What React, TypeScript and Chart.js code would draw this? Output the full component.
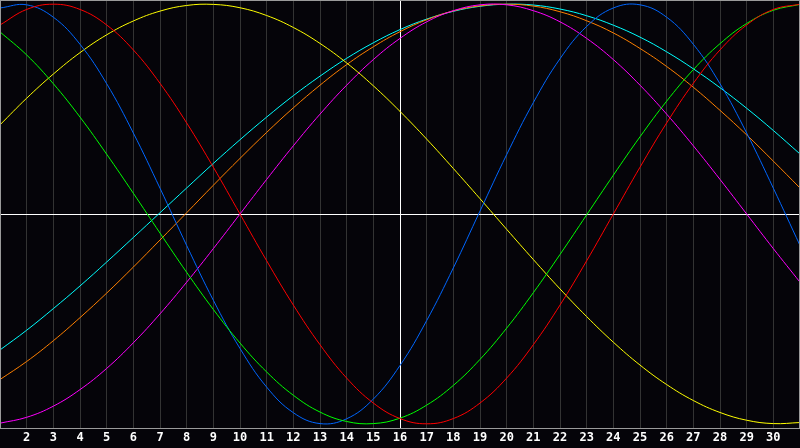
import React, { useEffect, useRef } from "react"
import Chart from "chart.js/auto"

// days 1..31, day 16 is the marked day
const days = [
  1, 2, 3, 4, 5, 6, 7, 8, 9, 10, 11, 12, 13, 14, 15, 16,
  17, 18, 19, 20, 21, 22, 23, 24, 25, 26, 27, 28, 29, 30, 31,
]
const markedDay = 16

const blueValues = [
  0.982, 0.997, 0.938, 0.809, 0.621, 0.386, 0.123, -0.15, -0.411, -0.641, -0.825,
  -0.947, -0.999, -0.976, -0.882, -0.722, -0.508, -0.257, 0.014, 0.283, 0.531,
  0.74, 0.894, 0.982, 0.997, 0.938, 0.809, 0.621, 0.386, 0.123, -0.15,
]
const redValues = [
  0.901, 0.975, 1, 0.975, 0.901, 0.782, 0.623, 0.434, 0.223, 0, -0.223,
  -0.434, -0.623, -0.782, -0.901, -0.975, -1, -0.975, -0.901, -0.782, -0.623,
  -0.434, -0.223, 0, 0.223, 0.434, 0.623, 0.782, 0.901, 0.975, 1,
]
const greenValues = [
  0.868, 0.758, 0.621, 0.462, 0.285, 0.099, -0.091, -0.278, -0.455, -0.615, -0.753,
  -0.864, -0.944, -0.989, -0.999, -0.973, -0.911, -0.817, -0.693, -0.544, -0.375,
  -0.193, -0.004, 0.185, 0.368, 0.538, 0.688, 0.812, 0.908, 0.971, 0.999,
]
const yellowValues = [
  0.425, 0.552, 0.667, 0.769, 0.854, 0.92, 0.967, 0.994, 0.999, 0.983, 0.946,
  0.889, 0.813, 0.72, 0.611, 0.489, 0.357, 0.217, 0.073, -0.073, -0.217,
  -0.357, -0.489, -0.611, -0.72, -0.813, -0.889, -0.946, -0.983, -0.999, -0.994,
]
const magentaValues = [
  -0.997, -0.969, -0.916, -0.837, -0.736, -0.614, -0.476, -0.325, -0.165, 0, 0.165,
  0.325, 0.476, 0.614, 0.736, 0.837, 0.916, 0.969, 0.997, 0.997, 0.969,
  0.916, 0.837, 0.736, 0.614, 0.476, 0.325, 0.165, 0, -0.165, -0.325,
]
const orangeValues = [
  -0.789, -0.703, -0.604, -0.494, -0.377, -0.253, -0.124, 0.006, 0.137, 0.265, 0.389,
  0.506, 0.614, 0.712, 0.797, 0.869, 0.926, 0.968, 0.992, 1, 0.991,
  0.964, 0.921, 0.863, 0.789, 0.703, 0.604, 0.494, 0.377, 0.252, 0.124,
]
const cyanValues = [
  -0.648, -0.554, -0.451, -0.343, -0.229, -0.112, 0.006, 0.124, 0.241, 0.354, 0.462,
  0.564, 0.657, 0.742, 0.816, 0.879, 0.929, 0.966, 0.99, 1, 0.996,
  0.977, 0.945, 0.9, 0.843, 0.773, 0.692, 0.602, 0.504, 0.398, 0.286,
]

const seriesList = [
  { values: redValues, color: "#ff0000" },
  { values: greenValues, color: "#00ff00" },
  { values: blueValues, color: "#0066ff" },
  { values: yellowValues, color: "#ffff00" },
  { values: magentaValues, color: "#ff00ff" },
  { values: orangeValues, color: "#ff8000" },
  { values: cyanValues, color: "#00ffff" },
]

const BG = "#050409"

export default function App() {
  const canvasRef = useRef<HTMLCanvasElement>(null)
  const chartRef = useRef<Chart | null>(null)

  useEffect(() => {
    document.body.style.margin = "0"
    document.body.style.background = BG
    if (!canvasRef.current) return
    const ctx = canvasRef.current.getContext("2d")
    if (!ctx) return

    chartRef.current?.destroy()

    chartRef.current = new Chart(ctx, {
      type: "line",
      data: {
        datasets: seriesList.map((s) => ({
          data: s.values.map((v, i) => ({ x: days[i], y: v })),
          borderColor: s.color,
          borderWidth: 1,
          pointRadius: 0,
          pointHoverRadius: 0,
          tension: 0.4,
          fill: false,
        })),
      },
      options: {
        responsive: false,
        devicePixelRatio: 1,
        animation: false,
        layout: { padding: 0, autoPadding: false },
        plugins: { legend: { display: false }, tooltip: { enabled: false } },
        scales: {
          x: {
            type: "linear",
            min: 1,
            max: 31,
            afterFit: (scale) => {
              scale.height = 20
              // no side padding: the plot runs edge to edge
              scale.paddingLeft = 0
              scale.paddingRight = 0
            },
            border: { display: false },
            grid: {
              drawTicks: false,
              lineWidth: 1,
              color: (c) => (c.tick && c.tick.value === markedDay ? "#ffffff" : "#333333"),
            },
            ticks: {
              stepSize: 1,
              autoSkip: false,
              maxRotation: 0,
              padding: 3,
              color: "#ffffff",
              font: { family: "'DejaVu Sans Mono'", size: 12, weight: "bold" },
              callback: (v) => (v === 1 || v === 31 ? "" : String(v)),
            },
          },
          y: {
            min: -1.02,
            max: 1.02,
            afterFit: (scale) => {
              scale.width = 0
            },
            afterBuildTicks: (scale) => {
              scale.ticks = [{ value: 0 }]
            },
            border: { display: false },
            grid: { drawTicks: false, color: "#ffffff", lineWidth: 1 },
            ticks: { display: false },
          },
        },
      },
      plugins: [
        {
          id: "frame",
          beforeDraw: (chart) => {
            const c = chart.ctx
            c.save()
            c.fillStyle = BG
            c.fillRect(0, 0, chart.width, chart.height)
            c.restore()
          },
          afterDraw: (chart) => {
            const { left, top, right, bottom } = chart.chartArea
            const c = chart.ctx
            c.save()
            c.strokeStyle = "#9a9a9a"
            c.lineWidth = 1
            c.strokeRect(left + 0.5, top + 0.5, right - left - 1, bottom - top)
            c.restore()
          },
        },
      ],
    })

    return () => {
      chartRef.current?.destroy()
      chartRef.current = null
    }
  }, [])

  return (
    <div style={{ width: 800, height: 448, background: BG }}>
      <canvas ref={canvasRef} width={800} height={448} />
    </div>
  )
}
